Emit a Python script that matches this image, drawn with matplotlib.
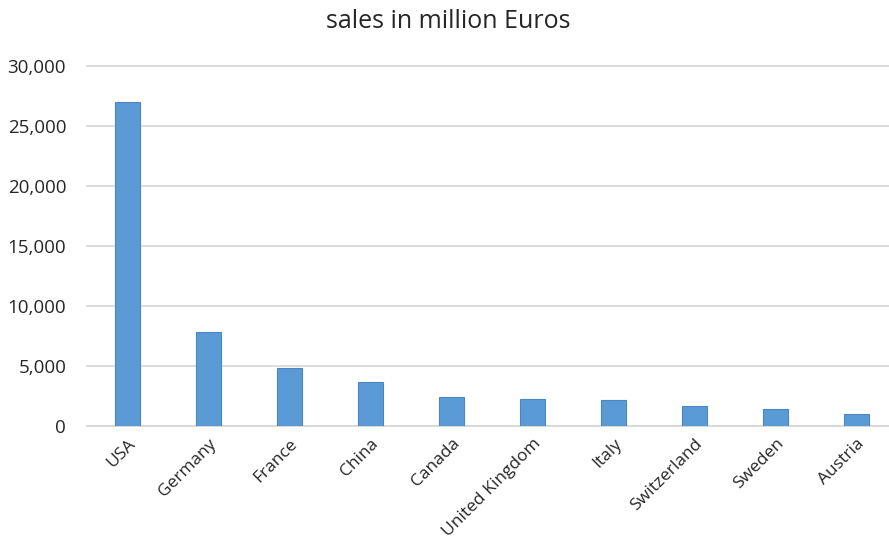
import matplotlib.pyplot as plt
from matplotlib.ticker import FuncFormatter

countries = ["USA", "Germany", "France", "China", "Canada", "United Kingdom",
             "Italy", "Switzerland", "Sweden", "Austria"]
sales = [27000, 7800, 4800, 3700, 2400, 2250, 2150, 1700, 1420, 980]
y_ticks = [0, 5000, 10000, 15000, 20000, 25000, 30000]

plt.rcParams['font.family'] = ['Open Sans', 'DejaVu Sans']

fig = plt.figure(figsize=(8.89, 5.45), dpi=100)
ax = fig.add_axes([87 / 889, 1 - 426 / 545, 802 / 889, 360 / 545])

x = range(len(countries))
ax.bar(x, sales, width=0.31, color='#5B9BD5', edgecolor='#4A86C2', linewidth=0.8, zorder=3)

ax.set_xlim(-0.5, 9.4)
ax.set_ylim(0, 30000)
ax.set_yticks(y_ticks)
ax.yaxis.set_major_formatter(FuncFormatter(lambda v, p: f"{int(v):,}"))
ax.grid(axis='y', color='#D9D9D9', linewidth=1.3, zorder=0)
for gl in ax.get_ygridlines():
    gl.set_clip_on(False)

ax.set_xticks(list(x))
ax.set_xticklabels(countries, rotation=45, ha='right', rotation_mode='anchor',
                   fontsize=12.5, color='#262626')
ax.tick_params(axis='x', length=0, pad=7)
ax.tick_params(axis='y', length=0, pad=15, labelsize=13.5, labelcolor='#262626')

for s in ['top', 'right', 'left']:
    ax.spines[s].set_visible(False)
ax.spines['bottom'].set_color('#D9D9D9')
ax.spines['bottom'].set_linewidth(1.3)

fig.text(448 / 889, 1 - 22 / 545, "sales in million Euros", ha='center', va='center',
         fontsize=18, color='#262626')

fig.savefig("out.png", dpi=100)
